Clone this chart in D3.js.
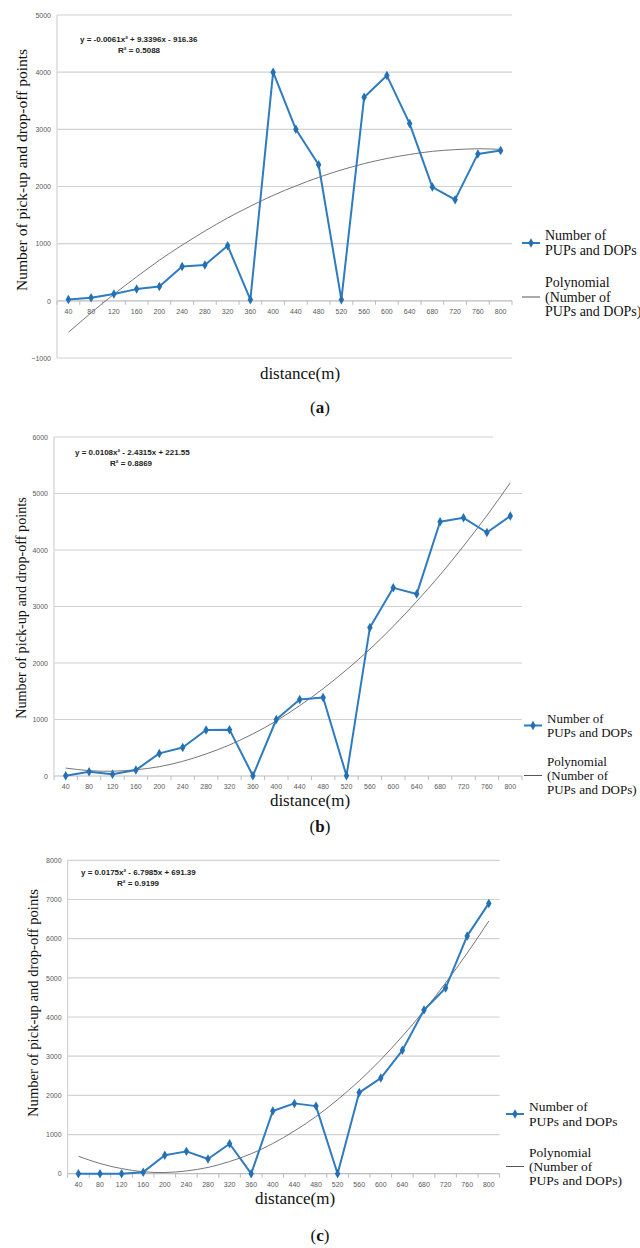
<!DOCTYPE html>
<html>
<head>
<meta charset="utf-8">
<script src="https://cdn.jsdelivr.net/npm/d3@7"></script>
<style>
  body { margin: 0; background: #fff; }
  svg { display: block; }
</style>
</head>
<body>
<div class="canvas"></div>
<script>
// categories (distance in m)
const distances = [40, 80, 120, 160, 200, 240, 280, 320, 360, 400, 440, 480, 520, 560, 600, 640, 680, 720, 760, 800];

// (a)
const pupsA = [25, 55, 120, 205, 250, 600, 625, 965, 20, 4000, 3000, 2380, 20, 3560, 3940, 3100, 1990, 1770, 2570, 2630];
const trendA = [-550, -210, 115, 420, 710, 975, 1220, 1450, 1655, 1845, 2010, 2160, 2290, 2400, 2490, 2560, 2615, 2645, 2660, 2650];
const ticksA = [-1000, 0, 1000, 2000, 3000, 4000, 5000];
const eqA = 'y = -0.0061x² + 9.3396x - 916.36';
const r2A = 'R² = 0.5088';

// (b)
const pupsB = [5, 75, 30, 105, 400, 505, 815, 820, 5, 1000, 1355, 1390, 5, 2630, 3330, 3220, 4500, 4570, 4310, 4600];
const trendB = [140, 95, 85, 110, 165, 260, 390, 550, 745, 975, 1245, 1545, 1880, 2245, 2650, 3090, 3560, 4070, 4610, 5190];
const ticksB = [0, 1000, 2000, 3000, 4000, 5000, 6000];
const eqB = 'y = 0.0108x² - 2.4315x + 221.55';
const r2B = 'R² = 0.8869';

// (c)
const pupsC = [0, 0, 0, 40, 470, 570, 375, 765, 0, 1600, 1795, 1725, 0, 2070, 2440, 3150, 4180, 4740, 6070, 6900];
const trendC = [445, 260, 130, 50, 30, 70, 160, 310, 510, 770, 1090, 1460, 1890, 2370, 2910, 3510, 4160, 4870, 5630, 6450];
const ticksC = [0, 1000, 2000, 3000, 4000, 5000, 6000, 7000, 8000];
const eqC = 'y = 0.0175x² - 6.7985x + 691.39';
const r2C = 'R² = 0.9199';

const legendSeries = ['Number of', 'PUPs and DOPs'];
const legendTrend = ['Polynomial', '(Number of', 'PUPs and DOPs)'];

const serif = '"Liberation Serif", "DejaVu Serif", serif';
const sans = '"Liberation Sans", Arial, sans-serif';
const blue = '#2e7bbf';

const svg = d3.select('.canvas')
  .append('svg')
  .attr('width', 640)
  .attr('height', 1248);

const panels = [
  {
    values: pupsA, trend: trendA, ticks: ticksA, eq: eqA, r2: r2A, tag: 'a',
    left: 57, right: 512, top: 15, bottom: 358,
    eqX: 80, eqY: 42, r2X: 118,
    yLabelX: 21, yLabelY: 170, yLabelSize: 15.5,
    xLabelX: 300, xLabelY: 379, tagY: 413,
    legX: 522, legY: 243, polyY: 297, legSize: 14,
  },
  {
    values: pupsB, trend: trendB, ticks: ticksB, eq: eqB, r2: r2B, tag: 'b',
    left: 54, right: 522, top: 437, bottom: 776, topLineEnd: 493,
    eqX: 75, eqY: 455, r2X: 110,
    yLabelX: 21, yLabelY: 608, yLabelSize: 14.2,
    xLabelX: 310, xLabelY: 806, tagY: 832,
    legX: 524, legY: 725.5, polyY: 775.5, legSize: 13,
  },
  {
    values: pupsC, trend: trendC, ticks: ticksC, eq: eqC, r2: r2C, tag: 'c',
    left: 67.6, right: 499.6, top: 860.3, bottom: 1173.7,
    eqX: 81, eqY: 875, r2X: 117,
    yLabelX: 33, yLabelY: 1003, yLabelSize: 14.6,
    xLabelX: 295, xLabelY: 1204, tagY: 1241,
    legX: 506, legY: 1114, polyY: 1166.5, legSize: 13.5,
  },
];

panels.forEach((p) => drawPanel(p));

function drawPanel(p) {
  const g = svg.append('g');

  const x = d3.scaleBand()
    .domain(distances)
    .range([p.left, p.right])
    .padding(0);

  const y = d3.scaleLinear()
    .domain(d3.extent(p.ticks))
    .range([p.bottom, p.top]);

  const cx = (d) => x(d) + x.bandwidth() / 2;

  // gridlines
  g.selectAll('line.grid')
    .data(p.ticks)
    .enter()
    .append('line')
    .attr('x1', p.left)
    .attr('x2', (d) => (d === p.ticks[p.ticks.length - 1] && p.topLineEnd) ? p.topLineEnd : p.right)
    .attr('y1', (d) => y(d))
    .attr('y2', (d) => y(d))
    .attr('stroke', (d) => d === 0 ? '#bcbcbc' : '#d2d2d2')
    .attr('stroke-width', 1.2);

  // vertical axis line
  g.append('line')
    .attr('x1', p.left).attr('x2', p.left)
    .attr('y1', p.top).attr('y2', p.bottom)
    .attr('stroke', '#d2d2d2')
    .attr('stroke-width', 1.2);

  // y axis labels
  const yAxis = d3.axisLeft(y).tickValues(p.ticks).tickFormat(d3.format('d')).tickSize(0).tickPadding(6);
  const yg = g.append('g').attr('transform', `translate(${p.left},0)`).call(yAxis);
  yg.select('path.domain').remove();
  yg.selectAll('text')
    .attr('font-family', sans)
    .attr('font-size', 7)
    .attr('fill', '#595959');

  // x axis labels at the zero line
  const xAxis = d3.axisBottom(x).tickSize(0).tickPadding(8);
  const xg = g.append('g').attr('transform', `translate(0,${y(0)})`).call(xAxis);
  xg.select('path.domain').remove();
  xg.selectAll('text')
    .attr('font-family', sans)
    .attr('font-size', 7)
    .attr('fill', '#595959');

  // small tick marks between categories
  const bounds = distances.map((d) => x(d)).concat([p.right]);
  g.selectAll('line.xtick')
    .data(bounds)
    .enter()
    .append('line')
    .attr('x1', (d) => d).attr('x2', (d) => d)
    .attr('y1', y(0)).attr('y2', y(0) + 4)
    .attr('stroke', '#bcbcbc');

  // trend line
  const trendLine = d3.line()
    .x((d, i) => cx(distances[i]))
    .y((d) => y(d))
    .curve(d3.curveNatural);
  g.append('path')
    .datum(p.trend)
    .attr('d', trendLine)
    .attr('fill', 'none')
    .attr('stroke', '#666')
    .attr('stroke-width', 0.9);

  // data line
  const dataLine = d3.line()
    .x((d, i) => cx(distances[i]))
    .y((d) => y(d));
  g.append('path')
    .datum(p.values)
    .attr('d', dataLine)
    .attr('fill', 'none')
    .attr('stroke', blue)
    .attr('stroke-width', 2)
    .attr('stroke-linejoin', 'round');

  g.selectAll('path.marker')
    .data(p.values)
    .enter()
    .append('path')
    .attr('d', d3.symbol().type(d3.symbolDiamond).size(26))
    .attr('transform', (d, i) => `translate(${cx(distances[i])},${y(d)})`)
    .attr('fill', '#2470b3');

  // equation
  g.append('text')
    .attr('x', p.eqX).attr('y', p.eqY)
    .attr('font-family', sans)
    .attr('font-size', 8)
    .attr('font-weight', 'bold')
    .attr('fill', '#222')
    .text(p.eq);
  g.append('text')
    .attr('x', p.r2X).attr('y', p.eqY + 11)
    .attr('font-family', sans)
    .attr('font-size', 8)
    .attr('font-weight', 'bold')
    .attr('fill', '#222')
    .text(p.r2);

  // axis titles
  g.append('text')
    .attr('transform', `translate(${p.yLabelX},${p.yLabelY}) rotate(-90)`)
    .attr('text-anchor', 'middle')
    .attr('dominant-baseline', 'central')
    .attr('font-family', serif)
    .attr('font-size', p.yLabelSize)
    .attr('fill', '#111')
    .text('Number of pick-up and drop-off points');

  g.append('text')
    .attr('x', p.xLabelX).attr('y', p.xLabelY)
    .attr('text-anchor', 'middle')
    .attr('font-family', serif)
    .attr('font-size', 17)
    .attr('fill', '#111')
    .text('distance(m)');

  const tag = g.append('text')
    .attr('x', 320).attr('y', p.tagY)
    .attr('text-anchor', 'middle')
    .attr('font-family', serif)
    .attr('font-size', 17)
    .attr('fill', '#111');
  tag.append('tspan').text('(');
  tag.append('tspan').attr('font-weight', 'bold').text(p.tag);
  tag.append('tspan').text(')');

  // legend
  g.append('line')
    .attr('x1', p.legX).attr('x2', p.legX + 18)
    .attr('y1', p.legY).attr('y2', p.legY)
    .attr('stroke', blue).attr('stroke-width', 2);
  g.append('path')
    .attr('d', d3.symbol().type(d3.symbolDiamond).size(26))
    .attr('transform', `translate(${p.legX + 9},${p.legY})`)
    .attr('fill', '#2470b3');
  legendSeries.forEach((t, i) => {
    g.append('text')
      .attr('x', p.legX + 23)
      .attr('y', p.legY - 7.5 + i * 14.5)
      .attr('dominant-baseline', 'central')
      .attr('font-family', serif)
      .attr('font-size', p.legSize)
      .attr('fill', '#111')
      .text(t);
  });

  g.append('line')
    .attr('x1', p.legX).attr('x2', p.legX + 18)
    .attr('y1', p.polyY).attr('y2', p.polyY)
    .attr('stroke', '#555').attr('stroke-width', 1);
  legendTrend.forEach((t, i) => {
    g.append('text')
      .attr('x', p.legX + 23)
      .attr('y', p.polyY + (i - 1) * 14.3)
      .attr('dominant-baseline', 'central')
      .attr('font-family', serif)
      .attr('font-size', p.legSize)
      .attr('fill', '#111')
      .text(t);
  });
}
</script>
</body>
</html>
